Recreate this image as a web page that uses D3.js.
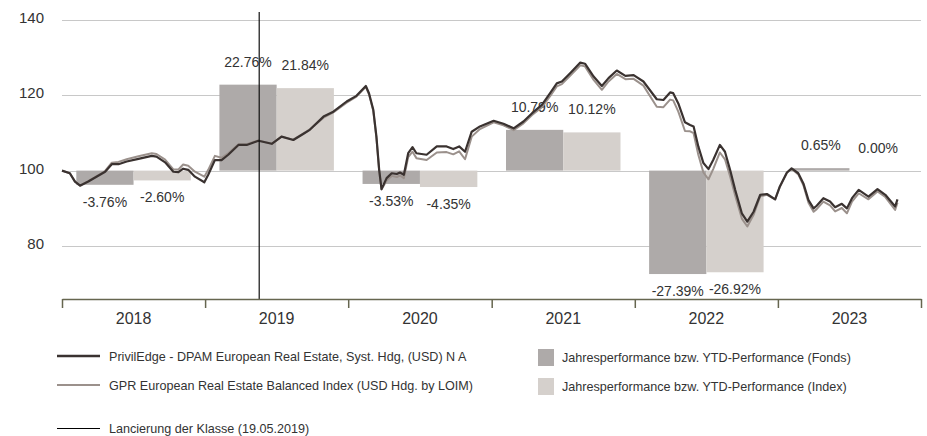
<!DOCTYPE html>
<html>
<head>
<meta charset="utf-8">
<script src="https://cdnjs.cloudflare.com/ajax/libs/d3/7.8.5/d3.min.js"></script>
<style>
  body { margin: 0; background: #fff; }
  svg { display: block; font-family: "Liberation Sans", Arial, sans-serif; }
</style>
</head>
<body>
<div id="chart"></div>
<script>
"use strict";

// == DATA ==
var dates = [
  "2018-01-01","2018-01-21","2018-02-03","2018-02-16","2018-03-09","2018-04-21","2018-05-08","2018-05-25",
  "2018-06-15","2018-07-15","2018-08-18","2018-08-30","2018-09-21","2018-10-12","2018-10-25","2018-11-06",
  "2018-11-19","2018-12-06","2018-12-30","2019-01-09","2019-01-26","2019-02-12","2019-03-01","2019-03-27",
  "2019-04-17","2019-05-17","2019-06-20","2019-07-15","2019-08-14","2019-09-08","2019-09-25","2019-10-30",
  "2019-11-24","2019-12-28","2020-01-22","2020-02-15","2020-02-23","2020-03-05","2020-03-13","2020-03-20",
  "2020-03-26","2020-04-08","2020-04-21","2020-05-04","2020-05-12","2020-05-22","2020-06-02","2020-06-13",
  "2020-06-23","2020-07-19","2020-08-14","2020-09-08","2020-09-25","2020-10-10","2020-10-25","2020-11-11",
  "2020-12-02","2021-01-06","2021-01-31","2021-02-26","2021-03-23","2021-04-14","2021-05-09","2021-05-30",
  "2021-06-16","2021-06-29","2021-07-20","2021-08-15","2021-08-27","2021-09-18","2021-10-09","2021-10-26",
  "2021-11-16","2021-12-08","2021-12-29","2022-01-23","2022-02-26","2022-03-15","2022-04-01","2022-04-09",
  "2022-04-22","2022-05-09","2022-05-22","2022-05-31","2022-06-12","2022-06-25","2022-07-08","2022-07-20",
  "2022-08-06","2022-08-19","2022-09-01","2022-09-14","2022-10-01","2022-10-15","2022-10-31","2022-11-17",
  "2022-12-04","2022-12-25","2023-01-06","2023-01-24","2023-02-05","2023-02-22","2023-03-07","2023-03-20",
  "2023-04-02","2023-04-10","2023-04-27","2023-05-14","2023-05-27","2023-06-13","2023-06-26","2023-07-09",
  "2023-07-26","2023-08-20","2023-09-12","2023-10-02","2023-10-27","2023-11-02"
];

var fund = [
  100.0, 99.3, 97.1, 96.0, 97.1, 99.7, 101.7, 101.7,
  102.4, 103.1, 103.9, 103.7, 102.2, 99.7, 99.6, 100.5,
  100.2, 98.4, 96.9, 98.9, 102.8, 102.8, 104.2, 106.8,
  106.8, 107.9, 107.1, 109.0, 108.1, 109.7, 110.8, 114.3,
  115.6, 118.3, 119.8, 122.4, 120.5, 116.1, 109.0, 100.2,
  95.1, 98.0, 99.3, 99.1, 99.5, 98.9, 104.6, 106.2,
  104.6, 104.2, 106.4, 106.4, 105.7, 106.4, 105.0, 110.3,
  111.7, 113.2, 112.4, 111.2, 113.0, 115.2, 117.4, 120.5,
  123.1, 123.6, 125.8, 128.6, 128.3, 124.9, 122.4, 124.5,
  126.5, 125.1, 125.3, 123.6, 118.9, 118.7, 120.7, 120.5,
  117.8, 112.8, 112.1, 111.7, 106.4, 102.0, 100.4, 102.8,
  106.8, 105.0, 100.2, 94.9, 88.7, 86.5, 89.1, 93.6,
  93.8, 92.4, 95.8, 99.5, 100.6, 99.3, 96.6, 92.2,
  90.0, 90.7, 92.7, 91.8, 90.3, 91.2, 90.0, 92.7,
  94.9, 93.1, 95.1, 93.6, 90.5, 92.4
];

var index = [
  100.0, 99.3, 97.2, 96.1, 97.2, 99.9, 102.1, 102.3,
  103.0, 103.8, 104.6, 104.4, 102.9, 100.3, 100.3, 101.6,
  101.3, 99.7, 98.4, 100.2, 103.9, 103.4, 104.6, 107.0,
  107.0, 108.0, 107.1, 109.0, 108.2, 109.8, 110.9, 114.0,
  115.4, 118.0, 119.6, 122.2, 120.2, 115.8, 108.6, 99.9,
  95.0, 97.4, 98.6, 98.3, 98.7, 98.0, 103.6, 105.0,
  103.3, 102.8, 104.8, 104.9, 104.3, 105.1, 103.0, 109.0,
  111.0, 112.8, 112.0, 110.7, 112.5, 114.7, 116.8, 119.7,
  122.3, 122.9, 125.1, 127.9, 127.6, 124.0, 121.4, 123.6,
  125.6, 124.2, 124.3, 122.5, 116.9, 116.8, 118.8, 118.6,
  115.6, 110.5, 110.4, 109.9, 104.2, 99.5, 97.7, 100.4,
  104.8, 103.0, 98.5, 93.4, 87.3, 85.2, 88.3, 93.2,
  93.6, 92.4, 95.7, 99.4, 100.5, 99.0, 96.1, 91.5,
  89.1, 89.8, 91.8, 90.8, 89.2, 90.1, 88.7, 91.8,
  94.0, 92.4, 94.5, 93.0, 89.6, 91.5
];

var years = [2018, 2019, 2020, 2021, 2022, 2023];
var perfFund = [-3.76, 22.76, -3.53, 10.79, -27.39, 0.65];
var perfIndex = [-2.60, 21.84, -4.35, 10.12, -26.92, 0.00];
var yTicks = [80, 100, 120, 140];
var launchDate = "2019-05-19";

var legendLines = [
  "PrivilEdge - DPAM European Real Estate, Syst. Hdg, (USD) N A",
  "GPR European Real Estate Balanced Index (USD Hdg. by LOIM)",
  "Lancierung der Klasse (19.05.2019)"
];
var legendBars = [
  "Jahresperformance bzw. YTD-Performance (Fonds)",
  "Jahresperformance bzw. YTD-Performance (Index)"
];

// == BOILERPLATE ==
var W = 927, H = 436;
var margin = { top: 12, left: 62, right: 6, bottom: 137 },
    width = W - margin.left - margin.right,
    height = H - margin.top - margin.bottom;

var colFund = "#3a3230", colIndex = "#9b918c",
    colBarFund = "#aeaaa9", colBarIndex = "#d5d0cc",
    colText = "#333333";

var svg = d3.select("#chart")
  .append("svg")
  .attr("width", W)
  .attr("height", H);

var g = svg.append("g")
  .attr("transform", "translate(" + margin.left + "," + margin.top + ")");

var parse = d3.timeParse("%Y-%m-%d");
var series = dates.map(function (d, i) {
  return { date: parse(d), fund: fund[i], index: index[i] };
});

var x = d3.scaleTime()
  .domain([new Date(2018, 0, 1), new Date(2024, 0, 1)])
  .range([0, width]);

var y = d3.scaleLinear()
  .domain([66, 142])
  .range([height, 0]);

// band inside each year for the two bars
var yearStart = function (yr) { return x(new Date(yr, 0, 1)); };
var barX = d3.scaleBand()
  .domain(["fund", "index"])
  .paddingOuter(0.25)
  .paddingInner(0);

// == GRID ==
g.append("g")
  .selectAll("line")
  .data(yTicks)
  .enter()
  .append("line")
  .attr("x1", 0)
  .attr("x2", width)
  .attr("y1", function (d) { return Math.round(y(d)) + 0.5; })
  .attr("y2", function (d) { return Math.round(y(d)) + 0.5; })
  .attr("stroke", "#c8c8c8")
  .attr("stroke-width", 1);

g.append("g")
  .selectAll("text")
  .data(yTicks)
  .enter()
  .append("text")
  .attr("x", -18)
  .attr("y", function (d) { return y(d) + 3; })
  .attr("text-anchor", "end")
  .attr("font-size", "15px")
  .attr("fill", colText)
  .text(function (d) { return d; });

// == BARS ==
var bars = [];
years.forEach(function (yr, i) {
  bars.push({ year: yr, key: "fund", v: perfFund[i] });
  bars.push({ year: yr, key: "index", v: perfIndex[i] });
});

g.append("g")
  .selectAll("rect")
  .data(bars)
  .enter()
  .append("rect")
  .attr("x", function (d) {
    barX.range([yearStart(d.year), yearStart(d.year + 1)]);
    return barX(d.key);
  })
  .attr("width", function (d) {
    barX.range([yearStart(d.year), yearStart(d.year + 1)]);
    return barX.bandwidth();
  })
  .attr("y", function (d) { return y(Math.max(100, 100 + d.v)); })
  .attr("height", function (d) { return Math.abs(y(100 + d.v) - y(100)); })
  .attr("fill", function (d) { return d.key === "fund" ? colBarFund : colBarIndex; });

// bar labels
g.append("g")
  .selectAll("text")
  .data(bars)
  .enter()
  .append("text")
  .attr("x", function (d) {
    barX.range([yearStart(d.year), yearStart(d.year + 1)]);
    return barX(d.key) + barX.bandwidth() / 2;
  })
  .attr("y", function (d) {
    return d.v >= 0 ? y(100 + d.v) - 18 : y(100 + d.v) + 22;
  })
  .attr("text-anchor", "middle")
  .attr("font-size", "14px")
  .attr("fill", colText)
  .text(function (d) { return d.v.toFixed(2) + "%"; });

// == LINES ==
var lineIndex = d3.line()
  .x(function (d) { return x(d.date); })
  .y(function (d) { return y(d.index); });
var lineFund = d3.line()
  .x(function (d) { return x(d.date); })
  .y(function (d) { return y(d.fund); });

g.append("path")
  .datum(series)
  .attr("d", lineIndex)
  .attr("fill", "none")
  .attr("stroke", colIndex)
  .attr("stroke-width", 2)
  .attr("stroke-linejoin", "round");

g.append("path")
  .datum(series)
  .attr("d", lineFund)
  .attr("fill", "none")
  .attr("stroke", colFund)
  .attr("stroke-width", 2.2)
  .attr("stroke-linejoin", "round");

// launch line
g.append("line")
  .attr("x1", x(parse(launchDate)))
  .attr("x2", x(parse(launchDate)))
  .attr("y1", 0)
  .attr("y2", height)
  .attr("stroke", "#111")
  .attr("stroke-width", 1.2);

// == X AXIS ==
var xAxis = d3.axisBottom(x)
  .tickValues(years.concat([2024]).map(function (yr) { return new Date(yr, 0, 1); }))
  .tickSize(9)
  .tickSizeOuter(0)
  .tickFormat("");

var ax = g.append("g")
  .attr("transform", "translate(0," + height + ")")
  .call(xAxis);
ax.selectAll("path, line")
  .attr("stroke", "#66664f")
  .attr("stroke-width", 1.5);

g.append("g")
  .selectAll("text")
  .data(years)
  .enter()
  .append("text")
  .attr("x", function (d) { return (yearStart(d) + yearStart(d + 1)) / 2; })
  .attr("y", height + 25)
  .attr("text-anchor", "middle")
  .attr("font-size", "16px")
  .attr("fill", colText)
  .text(function (d) { return d; });

// == LEGEND ==
var legRowY = [356, 385, 428.5];
var legStroke = [
  { c: colFund, w: 2.5 },
  { c: colIndex, w: 2 },
  { c: "#000", w: 1 }
];

var legL = svg.append("g");
legendLines.forEach(function (t, i) {
  legL.append("line")
    .attr("x1", 57).attr("x2", 100)
    .attr("y1", legRowY[i]).attr("y2", legRowY[i])
    .attr("stroke", legStroke[i].c)
    .attr("stroke-width", legStroke[i].w);
  legL.append("text")
    .attr("x", 109)
    .attr("y", legRowY[i] + 4.5)
    .attr("font-size", "12.6px")
    .attr("fill", colText)
    .text(t);
});

var legR = svg.append("g");
legendBars.forEach(function (t, i) {
  legR.append("rect")
    .attr("x", 538)
    .attr("y", legRowY[i] - 7)
    .attr("width", 16)
    .attr("height", 17)
    .attr("fill", i === 0 ? colBarFund : colBarIndex);
  legR.append("text")
    .attr("x", 562)
    .attr("y", legRowY[i] + 6)
    .attr("font-size", "12.6px")
    .attr("fill", colText)
    .text(t);
});
</script>
</body>
</html>
